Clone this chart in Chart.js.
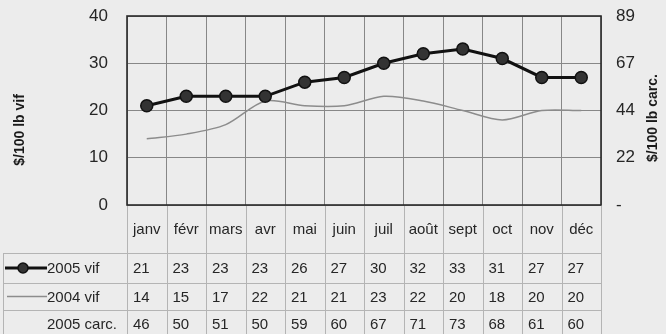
<!DOCTYPE html>
<html>
<head>
<meta charset="utf-8">
<script src="https://cdn.jsdelivr.net/npm/chart.js@4/dist/chart.umd.min.js"></script>
<style>
  html, body { margin: 0; padding: 0; background: #ececec; }
  canvas { display: block; }
</style>
</head>
<body>
<canvas id="prix" width="666" height="334"></canvas>
<script>
const months = ['janv', 'févr', 'mars', 'avr', 'mai', 'juin', 'juil', 'août', 'sept', 'oct', 'nov', 'déc'];
const vif2005 = [21, 23, 23, 23, 26, 27, 30, 32, 33, 31, 27, 27];
const vif2004 = [14, 15, 17, 22, 21, 21, 23, 22, 20, 18, 20, 20];
const carc2005 = [46, 50, 51, 50, 59, 60, 67, 71, 73, 68, 61, 60];
const leftTicks = ['0', '10', '20', '30', '40'];
const rightTicks = ['-', '22', '44', '67', '89'];

const FONT = '"Liberation Sans", Arial, Helvetica, sans-serif';
const GRID = '#878787';
const TABLE_LINE = '#b4b4b4';
const TEXT = '#262626';

// table under the plot: month row then one row per series
const tableRows = [
  { label: '2005 vif', values: vif2005, key: 'thick' },
  { label: '2004 vif', values: vif2004, key: 'thin' },
  { label: '2005 carc.', values: carc2005, key: 'none' }
];
const rowLines = [253, 283, 310, 338];

const framePlugin = {
  id: 'frame',
  beforeDatasetsDraw(chart) {
    const { ctx, chartArea: a } = chart;
    ctx.save();
    ctx.strokeStyle = '#2a2a2a';
    ctx.lineWidth = 1.6;
    ctx.strokeRect(a.left, a.top, a.right - a.left, a.bottom - a.top);
    ctx.restore();
  }
};

const tablePlugin = {
  id: 'dataTable',
  afterDraw(chart) {
    const { ctx, chartArea: a } = chart;
    const x = chart.scales.x;
    const colW = (a.right - a.left) / months.length;
    ctx.save();

    // table grid
    ctx.strokeStyle = TABLE_LINE;
    ctx.lineWidth = 1;
    ctx.beginPath();
    for (let i = 0; i <= months.length; i++) {
      const px = Math.round(a.left + i * colW) + 0.5;
      ctx.moveTo(px, a.bottom + 1);
      ctx.lineTo(px, 334);
    }
    ctx.moveTo(3.5, rowLines[0]);
    ctx.lineTo(3.5, 334);
    rowLines.forEach(y => {
      ctx.moveTo(3, y + 0.5);
      ctx.lineTo(a.right, y + 0.5);
    });
    ctx.stroke();

    // month labels
    ctx.fillStyle = TEXT;
    ctx.font = '15px ' + FONT;
    ctx.textAlign = 'center';
    ctx.textBaseline = 'middle';
    months.forEach((m, i) => ctx.fillText(m, x.getPixelForValue(i), 230));

    // series rows
    tableRows.forEach((row, r) => {
      const cy = (rowLines[r] + rowLines[r + 1]) / 2 + 1;
      ctx.textAlign = 'left';
      ctx.fillStyle = TEXT;
      ctx.fillText(row.label, 47, cy);
      row.values.forEach((v, i) => {
        ctx.fillText(String(v), a.left + i * colW + 6, cy);
      });
      if (row.key === 'thick') {
        ctx.strokeStyle = '#111';
        ctx.lineWidth = 3;
        ctx.beginPath();
        ctx.moveTo(5, cy - 1);
        ctx.lineTo(47, cy - 1);
        ctx.stroke();
        ctx.fillStyle = '#333';
        ctx.beginPath();
        ctx.arc(23, cy - 1, 5, 0, Math.PI * 2);
        ctx.fill();
        ctx.strokeStyle = '#111';
        ctx.lineWidth = 1.5;
        ctx.stroke();
      } else if (row.key === 'thin') {
        ctx.strokeStyle = '#8c8c8c';
        ctx.lineWidth = 1.5;
        ctx.beginPath();
        ctx.moveTo(7, cy - 1);
        ctx.lineTo(47, cy - 1);
        ctx.stroke();
      }
    });

    // axis titles, both reading bottom to top
    ctx.fillStyle = '#1a1a1a';
    ctx.font = 'bold 14px ' + FONT;
    ctx.textAlign = 'center';
    ctx.textBaseline = 'middle';
    ctx.translate(20, 130);
    ctx.rotate(-Math.PI / 2);
    ctx.fillText('$/100 lb vif', 0, 0);
    ctx.rotate(Math.PI / 2);
    ctx.translate(653 - 20, 118 - 130);
    ctx.rotate(-Math.PI / 2);
    ctx.fillText('$/100 lb carc.', 0, 0);
    ctx.restore();
  }
};

new Chart(document.getElementById('prix'), {
  type: 'line',
  data: {
    labels: months,
    datasets: [
      {
        label: '2005 vif',
        data: vif2005,
        borderColor: '#111',
        borderWidth: 3,
        pointRadius: 6,
        pointBackgroundColor: '#333',
        pointBorderColor: '#111',
        pointBorderWidth: 1.5,
        tension: 0,
        yAxisID: 'y'
      },
      {
        label: '2004 vif',
        data: vif2004,
        borderColor: '#8c8c8c',
        borderWidth: 1.5,
        pointRadius: 0,
        tension: 0.3,
        yAxisID: 'y'
      }
    ]
  },
  options: {
    responsive: false,
    animation: false,
    layout: { padding: { top: 16, bottom: 129, left: 0, right: 0 } },
    plugins: { legend: { display: false }, tooltip: { enabled: false } },
    scales: {
      x: {
        offset: true,
        grid: { offset: true, color: GRID, lineWidth: 1, drawTicks: false },
        border: { display: false },
        ticks: { display: false },
        afterFit(scale) { scale.height = 0; }
      },
      y: {
        position: 'left',
        min: 0,
        max: 40,
        // invisible tick marks push the labels away from the frame
        grid: { color: GRID, lineWidth: 1, drawTicks: true, tickLength: 19, tickColor: 'rgba(0,0,0,0)' },
        border: { display: false },
        ticks: {
          stepSize: 10,
          padding: 0,
          color: TEXT,
          font: { family: FONT, size: 17 },
          callback: (v, i) => leftTicks[i]
        },
        afterFit(scale) { scale.width = 127; }
      },
      y2: {
        position: 'right',
        min: 0,
        max: 40,
        grid: { display: true, drawOnChartArea: false, drawTicks: true, tickLength: 15, tickColor: 'rgba(0,0,0,0)' },
        border: { display: false },
        ticks: {
          stepSize: 10,
          padding: 0,
          color: TEXT,
          font: { family: FONT, size: 17 },
          callback: (v, i) => rightTicks[i]
        },
        afterFit(scale) { scale.width = 65; }
      }
    }
  },
  plugins: [framePlugin, tablePlugin]
});
</script>
</body>
</html>
